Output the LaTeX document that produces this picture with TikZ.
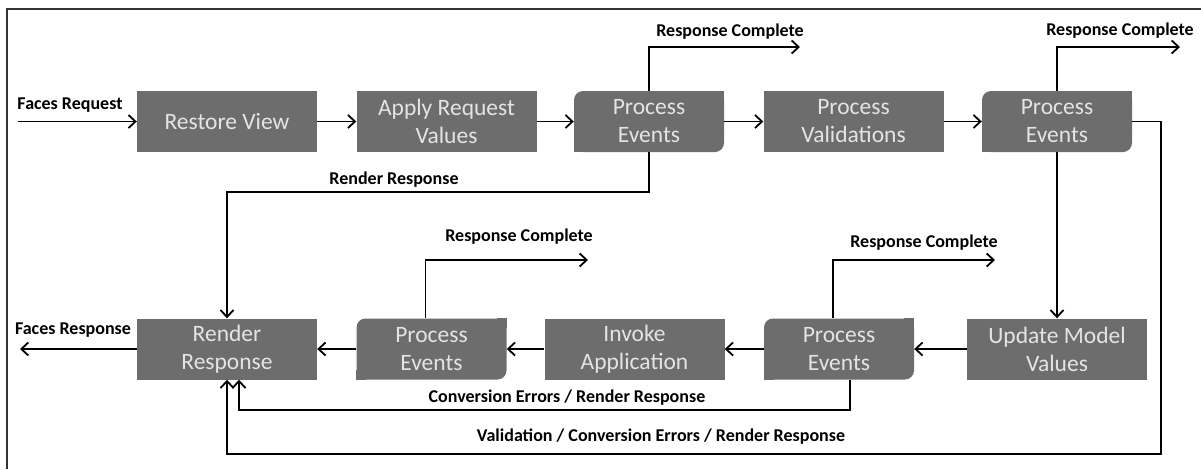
\documentclass[tikz,border=0pt]{standalone}
\usepackage{fontspec}
\setmainfont{Carlito}
\usetikzlibrary{arrows.meta}
\definecolor{stagegray}{HTML}{6D6D6D}
\definecolor{stagetext}{HTML}{E4E4E4}
\begin{document}
\begin{tikzpicture}
    [x=1pt,y=-1pt,
     stage/.style={fill=stagegray,text=stagetext,minimum height=61pt,minimum width=180pt,
       inner sep=0pt,align=center,font=\fontsize{23.5}{28}\selectfont},
     events/.style={stage,rounded corners=9pt,minimum width=150pt},
     flow/.style={line width=1.8pt,-{Straight Barb[length=7pt,width=13pt,line width=1.8pt]}},
     lbl/.style={inner sep=0pt,font=\bfseries\fontsize{18}{20}\selectfont}]
    \useasboundingbox (0,0) rectangle (1201,469);
    \draw [line width=1.5pt,black!80] (7,469) -- (7,9) -- (1201,9);
    % first row
    \node (rv) at (227, 121.5) [stage] {Restore View};
    \node (arv) at (446.5, 121.5) [stage] {Apply Request\\Values};
    \node (pe1) at (649, 121.5) [events] {Process\\Events};
    \node (pv) at (853.5, 121.5) [stage] {Process\\Validations};
    \node (pe2) at (1057, 121.5) [events] {Process\\Events};
    % second row
    \node (rr) at (227, 349) [stage] {Render\\Response};
    \node (pe3) at (431.5, 349) [events] {Process\\Events};
    \node (ia) at (634.5, 349) [stage] {Invoke\\Application};
    \node (pe4) at (839, 349) [events] {Process\\Events};
    \node (umv) at (1057, 349) [stage] {Update Model\\Values};
    \foreach \n in {pe1,pe2,pe3,pe4} {
      \fill [stagegray] (\n.north east) rectangle ++(-10,10);
      \fill [stagegray] (\n.south west) rectangle ++(10,-10);
    }
    \coordinate (fin) at (18, 121.5);
    \coordinate (fout) at (20, 349);
    \coordinate (rc1) at (800, 47);
    \coordinate (rc2) at (1180, 47);
    \coordinate (rc3) at (588, 260);
    \coordinate (rc4) at (995, 260);
    \coordinate (k1) at (227, 192);
    \coordinate (k2) at (1161, 454);
    \coordinate (k3) at (239, 410);
    \draw [flow] (fin) to (rv);
    \draw [flow] (rv) to (arv);
    \draw [flow] (arv) to (pe1);
    \draw [flow] (pe1) to (pv);
    \draw [flow] (pv) to (pe2);
    \draw [flow] (pe2) to (umv);
    \draw [flow] (umv) to (pe4);
    \draw [flow] (pe4) to (ia);
    \draw [flow] (ia) to (pe3);
    \draw [flow] (pe3) to (rr);
    \draw [flow] (rr) to (fout);
    \draw [flow] (pe1.north) |- (rc1);
    \draw [flow] (pe2.north) |- (rc2);
    \draw [flow] ([xshift=-6pt]pe3.north) |- (rc3);
    \draw [flow] ([xshift=-6pt]pe4.north) |- (rc4);
    \draw [flow] (pe1.south) |- (k1) -- (rr.north);
    \draw [flow] (pe2.east) -| (k2) -| (rr.south);
    \draw [flow] ([xshift=11pt]pe4.south) |- (k3) -- (k3 |- rr.south);
    % labels
    \node (lreq) at (70, 105) [lbl] {Faces Request};
    \node (lres) at (73, 330) [lbl] {Faces Response};
    \node (lrc1) at (730, 32) [lbl] {Response Complete};
    \node (lrc2) at (1120, 31) [lbl] {Response Complete};
    \node (lrc3) at (519, 237) [lbl] {Response Complete};
    \node (lrc4) at (924, 243) [lbl] {Response Complete};
    \node (lrr) at (394, 180) [lbl] {Render Response};
    \node (lce) at (567, 398) [lbl] {Conversion Errors / Render Response};
    \node (lvce) at (661, 437) [lbl] {Validation / Conversion Errors / Render Response};
\end{tikzpicture}
\end{document}
